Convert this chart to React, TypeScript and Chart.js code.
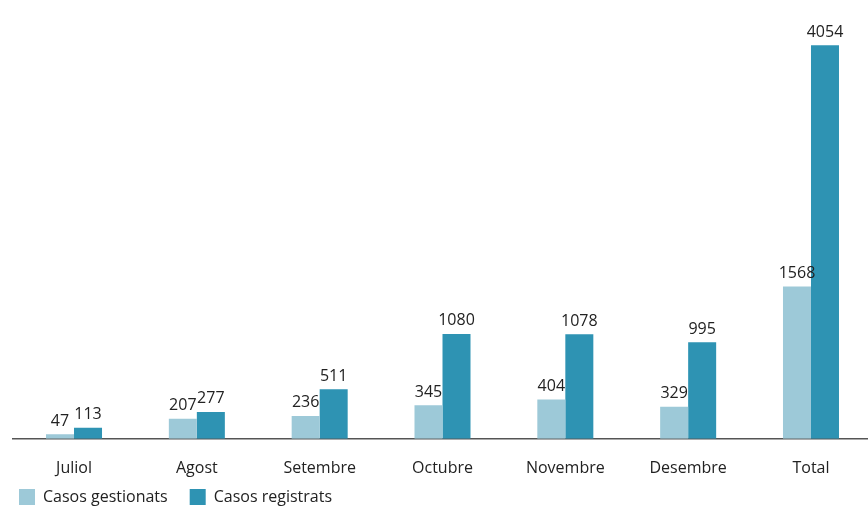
import React, { useEffect, useRef } from "react";
import { Chart, registerables } from "chart.js";

Chart.register(...registerables);

const categories = ["Juliol", "Agost", "Setembre", "Octubre", "Novembre", "Desembre", "Total"];
const gestionats = [47, 207, 236, 345, 404, 329, 1568];
const registrats = [113, 277, 511, 1080, 1078, 995, 4054];
const seriesNames = ["Casos gestionats", "Casos registrats"];
const colors = ["#9dc9d8", "#2e93b3"];
const FONT = "'Open Sans', sans-serif";

const labelsPlugin = {
  id: "labelsAndLegend",
  afterDatasetsDraw(chart: any) {
    const ctx = chart.ctx;
    ctx.save();
    ctx.font = `16px ${FONT}`;
    ctx.fillStyle = "#222";
    ctx.textAlign = "center";
    ctx.textBaseline = "bottom";
    chart.data.datasets.forEach((ds: any, di: number) => {
      const meta = chart.getDatasetMeta(di);
      meta.data.forEach((bar: any, i: number) => {
        ctx.fillText(String(ds.data[i]), bar.x, bar.y - 5);
      });
    });
    // legend
    ctx.textAlign = "left";
    ctx.textBaseline = "middle";
    let x = 19;
    const y = 497;
    seriesNames.forEach((name, i) => {
      ctx.fillStyle = colors[i];
      ctx.fillRect(x, y - 8, 16, 16);
      ctx.fillStyle = "#222";
      ctx.fillText(name, x + 24, y);
      x += 24 + ctx.measureText(name).width + 22;
    });
    ctx.restore();
  },
};

export default function App() {
  const ref = useRef<HTMLCanvasElement>(null);
  useEffect(() => {
    document.body.style.margin = "0";
    document.body.style.overflow = "hidden";
    const chart = new Chart(ref.current!, {
      type: "bar",
      data: {
        labels: categories,
        datasets: [
          { label: seriesNames[0], data: gestionats, backgroundColor: colors[0] },
          { label: seriesNames[1], data: registrats, backgroundColor: colors[1] },
        ],
      },
      options: {
        animation: false,
        responsive: false,
        layout: { padding: { left: 12.6, right: 1.6, top: 31, bottom: 16 } },
        datasets: { bar: { categoryPercentage: 0.456, barPercentage: 1 } },
        plugins: { legend: { display: false }, tooltip: { enabled: false } },
        scales: {
          x: {
            grid: { display: false },
            border: { display: true, color: "#555", width: 1.5 },
            ticks: { color: "#222", font: { family: FONT, size: 16 }, padding: 12 },
          },
          y: { display: false, min: 0, max: 4200 },
        },
      },
      plugins: [labelsPlugin],
    });
    return () => chart.destroy();
  }, []);
  return (
    <div style={{ width: 868, height: 506, overflow: "hidden", position: "relative" }}>
      <canvas ref={ref} width={874} height={506} style={{ display: "block" }} />
    </div>
  );
}
